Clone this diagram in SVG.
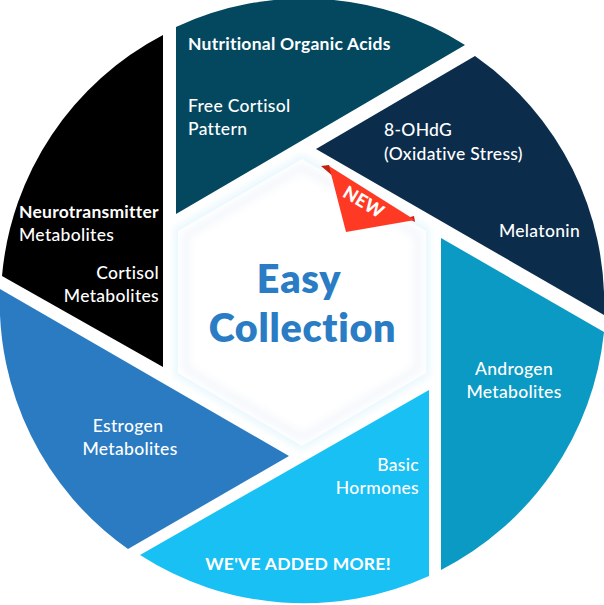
<svg xmlns="http://www.w3.org/2000/svg" width="604" height="605" viewBox="0 0 604 605">
<style>
text{font-family:"Lato","Liberation Sans",sans-serif;font-weight:500;font-size:17.5px;letter-spacing:.32px;fill:#fff;font-variant-ligatures:none}
.m{text-anchor:middle}.e{text-anchor:end}
.b{font-weight:700;letter-spacing:.25px}
.t{font-size:39.5px;font-weight:800;fill:#2a7dc4;text-anchor:middle;letter-spacing:.7px}
</style>
<defs>
<filter id="g" x="-20%" y="-20%" width="140%" height="140%"><feGaussianBlur stdDeviation="3.500"/></filter>
<filter id="g2" x="-20%" y="-20%" width="140%" height="140%"><feGaussianBlur stdDeviation="4"/></filter>
</defs>
<rect width="604" height="605" fill="#fff"/>
<g id="connectors"></g>
<g id="seg-teal"><path d="M176 214V27A302 302 0 0 1 465 45Z" fill="#03485f"/>
<text x="188" y="50" class="b">Nutritional Organic Acids</text><text x="188" y="112">Free Cortisol</text><text x="188" y="135">Pattern</text></g>
<g id="seg-navy"><path d="M316 149L475 56A302 302 0 0 1 604 315Z" fill="#0b2c4b"/>
<text x="384" y="136">8-OHdG</text><text x="384" y="160">(Oxidative Stress)</text><text x="580" y="237" class="e">Melatonin</text></g>
<g id="seg-androgen"><path d="M441 238L604 332A302 302 0 0 1 441 570Z" fill="#0a9ac4"/>
<text x="514" y="375" class="m">Androgen</text><text x="514" y="398" class="m">Metabolites</text></g>
<g id="seg-basic"><path d="M429 390V576A302 302 0 0 1 140 555Z" fill="#19c0f4"/>
<text x="419" y="471" class="e">Basic</text><text x="419" y="494" class="e">Hormones</text><text x="298" y="570" class="m b">WE'VE ADDED MORE!</text></g>
<g id="seg-estrogen"><path d="M289 456L128 549A302 302 0 0 1 0 289Z" fill="#2a7bc1"/>
<text x="128" y="432" class="m">Estrogen</text><text x="130" y="455" class="m">Metabolites</text></g>
<g id="seg-black"><path d="M163 367L2 276A302 302 0 0 1 163 35Z" fill="#000"/>
<text x="19" y="218" class="b">Neurotransmitter</text><text x="19" y="241">Metabolites</text><text x="159" y="279" class="e">Cortisol</text><text x="159" y="302" class="e">Metabolites</text></g>
<g id="hexagon">
<path d="M302 154L430 228V376L302 451L174 376V228Z" fill="#eaf8fd" filter="url(#g)"/>
<path d="M302 159L426 231V373L302 446L178 373V231Z" fill="#fff"/>
<path d="M302 164L421 234V370L302 441L183 370V234Z" fill="#f1f5fb" filter="url(#g2)"/>
<path d="M302 171L415 237V367L302 434L189 367V237Z" fill="#fff" filter="url(#g2)"/>
<text x="299" y="293" class="t">Easy</text><text x="302.500" y="342" class="t">Collection</text>
</g>
<g id="badge-new">
<path d="M321 166L329 165L334 177ZM407 218L414 216L415 222Z" fill="#c3200f"/>
<path d="M329 166L415 220L346 232Z" fill="#ff3a24"/>
<text x="363" y="208" transform="rotate(31 363 203)" class="m" style="font-size:18px;font-weight:900">NEW</text>
</g>
</svg>
